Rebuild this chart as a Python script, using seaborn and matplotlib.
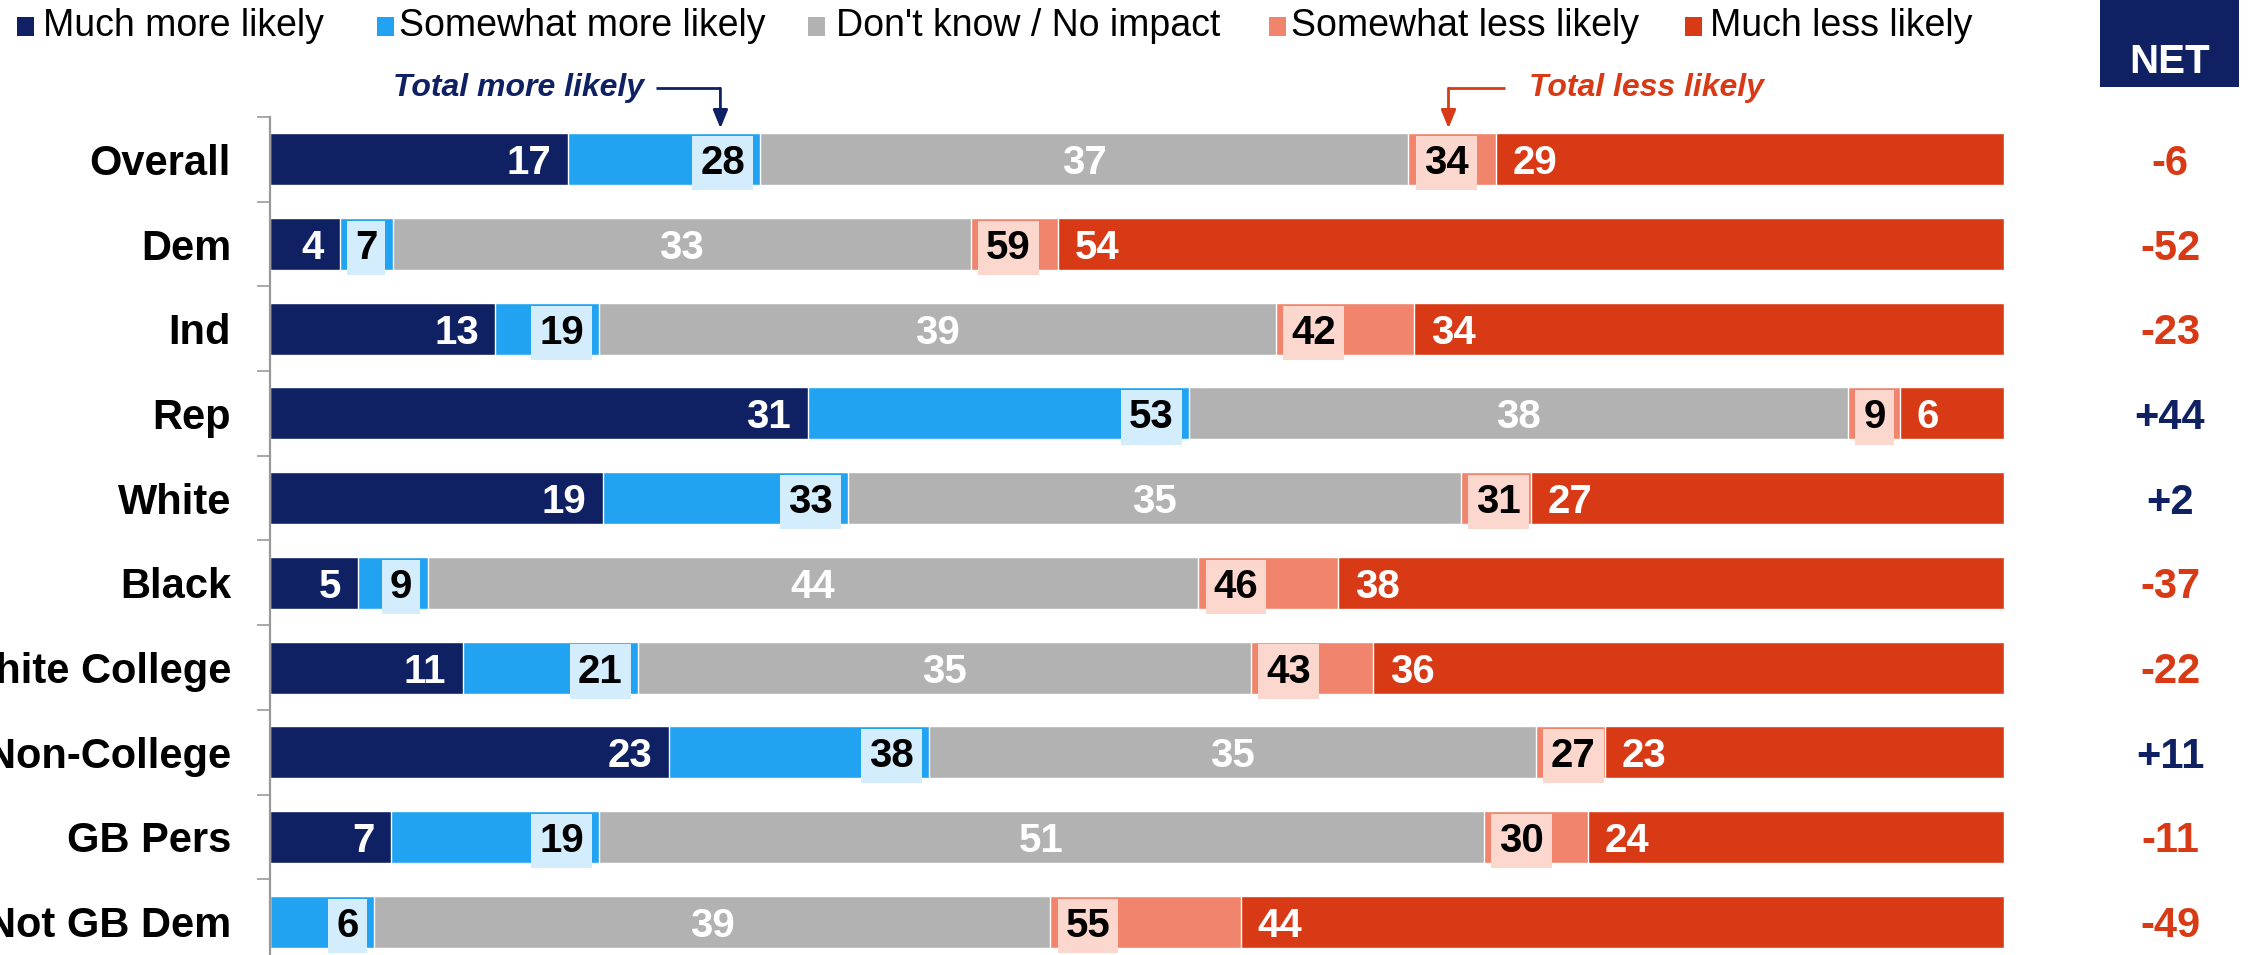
#!/usr/bin/env python
# stacked likelihood bars with net column
import numpy as np
import pandas as pd
import matplotlib
matplotlib.use("Agg")
import matplotlib.pyplot as plt
import matplotlib.transforms as mtrans
from matplotlib.patches import Rectangle
import seaborn as sns

groups = ["Overall", "Dem", "Ind", "Rep", "White", "Black", "White College",
          "White Non-College", "GB Pers", "Not GB Dem"]
much_more = [17, 4, 13, 31, 19, 5, 11, 23, 7, 0]
somewhat_more = [11, 3, 6, 22, 14, 4, 10, 15, 12, 6]
dont_know = [37, 33, 39, 38, 35, 44, 35, 35, 51, 39]
somewhat_less = [5, 5, 8, 3, 4, 8, 7, 4, 6, 11]
much_less = [29, 54, 34, 6, 27, 38, 36, 23, 24, 44]
total_more = [28, 7, 19, 53, 33, 9, 21, 38, 19, 6]
total_less = [34, 59, 42, 9, 31, 46, 43, 27, 30, 55]
net = [-6, -52, -23, 44, 2, -37, -22, 11, -11, -49]

legend_labels = ["Much more likely", "Somewhat more likely", "Don't know / No impact",
                 "Somewhat less likely", "Much less likely"]

navy = "#0f2163"
blue = "#21a3f1"
gray = "#b2b2b2"
salmon = "#f1846c"
red = "#d83a16"
box_blue = "#d3edfc"
box_pink = "#fbd7cd"
colors = [navy, blue, gray, salmon, red]

sns.set_style("white")
plt.rcParams["font.family"] = ["Liberation Sans", "DejaVu Sans"]

# organize data, stretch every row to 100
df = pd.DataFrame({"group": groups, "mm": much_more, "sm": somewhat_more,
                   "dk": dont_know, "sl": somewhat_less, "ml": much_less})
parts = ["mm", "sm", "dk", "sl", "ml"]
row_sum = df[parts].sum(axis=1)
for p in parts:
    df[p] = df[p] / row_sum * 100
cum = df[parts].cumsum(axis=1)
for i, p in enumerate(parts):
    df["c" + str(i + 1)] = cum[p]

fig = plt.figure(figsize=(22.49, 9.55), dpi=100)
W, H = 2249, 955
ax = fig.add_axes([270 / W, 1 - 964 / H, 1734 / W, 847 / H])

# draw cumulative layers from the back
for i in range(5, 0, -1):
    sns.barplot(data=df, x="c" + str(i), y="group", order=groups, orient="h",
                color=colors[i - 1], saturation=1, width=0.615, ax=ax)

ax.set_xlim(0, 100)
ax.set_ylim(9.5, -0.5)
ax.set_xlabel("")
ax.set_ylabel("")
ax.set_xticks([])
sns.despine(ax=ax, top=True, right=True, bottom=True)
ax.spines["left"].set_color("#999999")
ax.spines["left"].set_linewidth(1.6)
ax.set_yticks(np.arange(-0.5, 10, 1), minor=True)
ax.tick_params(axis="y", which="minor", left=True, length=9.5, width=1.2,
               color="#999999", direction="out")
ax.tick_params(axis="y", which="major", left=True, length=0, pad=28)
for lab in ax.get_yticklabels():
    lab.set_fontsize(30)
    lab.set_fontweight("bold")
    lab.set_color("black")

lab_kw = dict(fontsize=29, fontweight="bold", va="center_baseline",
              textcoords="offset points", annotation_clip=False)
for i in range(len(groups)):
    c1, c2, c3, c4 = df.loc[i, ["c1", "c2", "c3", "c4"]]
    if much_more[i] > 0:
        ax.annotate(str(much_more[i]), (c1, i), xytext=(-12, 0), ha="right",
                    color="white", **lab_kw)
    ax.annotate(str(total_more[i]), (c2, i), xytext=(-11, 0), ha="right",
                color="black",
                bbox=dict(boxstyle="square,pad=0.2", fc=box_blue, ec="none"),
                **lab_kw)
    ax.annotate(str(dont_know[i]), ((c2 + c3) / 2, i), xytext=(0, 0),
                ha="center", color="white", **lab_kw)
    ax.annotate(str(total_less[i]), (c3, i), xytext=(11, 0), ha="left",
                color="black",
                bbox=dict(boxstyle="square,pad=0.2", fc=box_pink, ec="none"),
                **lab_kw)
    ax.annotate(str(much_less[i]), (c4, i), xytext=(12, 0), ha="left",
                color="white", **lab_kw)

# net column
blend = mtrans.blended_transform_factory(fig.transFigure, ax.transData)
for i, v in enumerate(net):
    txt = ("+" if v > 0 else "") + str(v)
    ax.text(2170 / W, i, txt, transform=blend, ha="center", va="center_baseline",
            fontsize=30, fontweight="bold", color=navy if v > 0 else red,
            clip_on=False)
fig.patches.append(Rectangle((2100 / W, 1 - 87 / H), 139 / W, 87 / H,
                             transform=fig.transFigure, fc=navy, ec="none"))
fig.text(2170 / W, 1 - 62 / H, "NET", ha="center", va="center", fontsize=29,
         fontweight="bold", color="white")

# callouts for the totals
px = 1734 / 100.0
y_line = (89 - 160) / 84.6
y_tip = (129 - 160) / 84.6
xa = df.loc[0, "c2"] - 40 / px
ax.plot([xa - 64 / px, xa], [y_line, y_line], color=navy, lw=2, clip_on=False,
        solid_capstyle="butt")
ax.annotate("", xy=(xa, y_tip), xytext=(xa, y_line), annotation_clip=False,
            arrowprops=dict(arrowstyle="-|>,head_length=1.1,head_width=0.45",
                            color=navy, lw=2, shrinkA=0, shrinkB=0))
ax.text(xa - 76 / px, y_line, "Total more likely", ha="right", va="center",
        fontsize=23, fontweight="bold", fontstyle="italic", color=navy,
        clip_on=False)

xb = df.loc[0, "c3"] + 40 / px
ax.plot([xb, xb + 57 / px], [y_line, y_line], color=red, lw=2, clip_on=False,
        solid_capstyle="butt")
ax.annotate("", xy=(xb, y_tip), xytext=(xb, y_line), annotation_clip=False,
            arrowprops=dict(arrowstyle="-|>,head_length=1.1,head_width=0.45",
                            color=red, lw=2, shrinkA=0, shrinkB=0))
ax.text(xb + 81 / px, y_line, "Total less likely", ha="left", va="center",
        fontsize=23, fontweight="bold", fontstyle="italic", color=red,
        clip_on=False)

# legend row
sq_x = [17, 377, 808, 1269, 1685]
txt_x = [43, 399, 836, 1291, 1710]
for sx, tx, lab, col in zip(sq_x, txt_x, legend_labels, colors):
    fig.patches.append(Rectangle((sx / W, 1 - 36 / H), 17 / W, 19 / H,
                                 transform=fig.transFigure, fc=col, ec="none"))
    fig.text(tx / W, 1 - 26 / H, lab, ha="left", va="center", fontsize=27,
             color="black")

plt.savefig("out.png", dpi=100)
